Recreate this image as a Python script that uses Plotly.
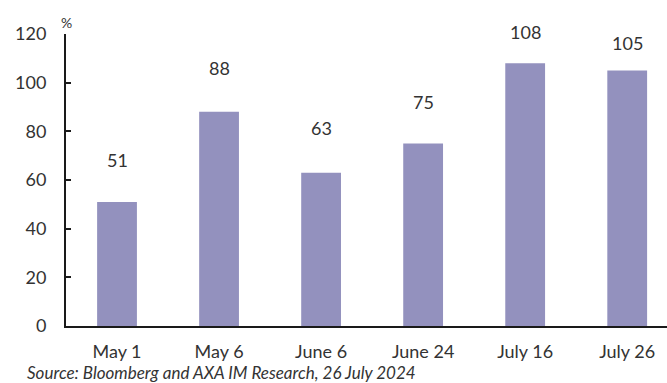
import plotly.graph_objects as go

# Data
dates = ["May 1", "May 6", "June 6", "June 24", "July 16", "July 26"]
values = [51, 88, 63, 75, 108, 105]
y_ticks = [0, 20, 40, 60, 80, 100, 120]
source_note = "Source: Bloomberg and AXA IM Research, 26 July 2024"

# pixel gap between each bar top and its value label
label_gap = [42, 44, 45, 42, 31, 28]

FONT = "Lato, Liberation Sans, sans-serif"
TXT = "#333333"

fig = go.Figure(
    go.Bar(
        x=list(range(len(dates))),
        y=values,
        width=0.39,
        marker=dict(color="#9391BE", line=dict(width=0)),
        hoverinfo="skip",
    )
)

for i, v in enumerate(values):
    fig.add_annotation(
        x=i, y=v, text=str(v), showarrow=False,
        yanchor="middle", yshift=label_gap[i],
        font=dict(family=FONT, size=18, color=TXT),
    )

# unit marker above the value axis
fig.add_annotation(
    x=0.0, y=1.0, xref="paper", yref="paper", text="%", showarrow=False,
    xanchor="center", yanchor="bottom", yshift=1,
    font=dict(family=FONT, size=14, color=TXT),
)

fig.add_annotation(
    x=0, y=0, xref="paper", yref="paper", text=f"<i>{source_note}</i>",
    showarrow=False, xanchor="left", yanchor="top", xshift=-41, yshift=-34,
    font=dict(family=FONT, size=17, color=TXT),
)

fig.update_layout(
    width=667, height=383,
    margin=dict(l=66, r=0, t=34, b=57),
    paper_bgcolor="white", plot_bgcolor="white",
    showlegend=False,
    font=dict(family=FONT, size=18, color=TXT),
    xaxis=dict(
        range=[-0.5, 5.39],
        tickmode="array", tickvals=list(range(len(dates))), ticktext=dates,
        showgrid=False, zeroline=False,
        showline=True, linecolor="#1a1a1a", linewidth=2,
        ticks="", ticklabelstandoff=8,
        tickfont=dict(family=FONT, size=18, color=TXT),
    ),
    yaxis=dict(
        range=[0, 120], tickvals=y_ticks,
        showgrid=False, zeroline=False,
        showline=True, linecolor="#1a1a1a", linewidth=2,
        ticks="inside", ticklen=5, tickwidth=1.5, tickcolor="#1a1a1a",
        ticklabelstandoff=14,
        tickfont=dict(family=FONT, size=18, color=TXT),
    ),
)

fig.write_html("out.html")
